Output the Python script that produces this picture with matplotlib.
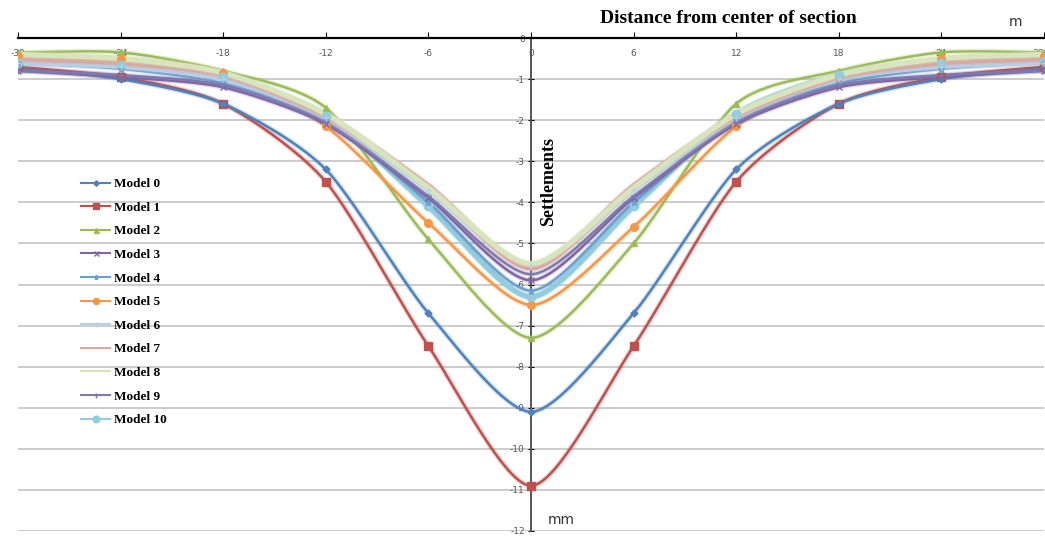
import numpy as np
import matplotlib
matplotlib.use("Agg")
import matplotlib.pyplot as plt
import matplotlib.patheffects as pe

plt.rcParams["axes.unicode_minus"] = False

########## DATA ##########

distance = [-30, -24, -18, -12, -6, 0, 6, 12, 18, 24, 30]  # m

model_names = ["Model 0", "Model 1", "Model 2", "Model 3", "Model 4", "Model 5",
               "Model 6", "Model 7", "Model 8", "Model 9", "Model 10"]

model_0 = [-0.75, -1.0, -1.6, -3.2, -6.7, -9.1, -6.7, -3.2, -1.6, -1.0, -0.75]
model_1 = [-0.7, -0.95, -1.6, -3.5, -7.5, -10.9, -7.5, -3.5, -1.6, -0.95, -0.7]
model_2 = [-0.35, -0.35, -0.8, -1.7, -4.9, -7.3, -5.0, -1.6, -0.8, -0.35, -0.35]
model_3 = [-0.8, -0.95, -1.2, -2.1, -3.9, -5.9, -3.9, -2.1, -1.2, -0.95, -0.8]
model_4 = [-0.6, -0.75, -1.1, -2.0, -4.0, -6.15, -4.0, -2.0, -1.1, -0.75, -0.6]
model_5 = [-0.45, -0.5, -0.85, -2.15, -4.5, -6.5, -4.6, -2.15, -0.95, -0.5, -0.45]
model_6 = [-0.6, -0.7, -1.0, -1.95, -3.7, -5.55, -3.7, -1.95, -1.0, -0.7, -0.6]
model_7 = [-0.5, -0.6, -0.9, -1.9, -3.6, -5.6, -3.6, -1.9, -0.95, -0.6, -0.5]
model_8 = [-0.4, -0.5, -0.85, -1.85, -3.65, -5.5, -3.65, -1.85, -0.9, -0.5, -0.4]
model_9 = [-0.8, -0.9, -1.15, -2.05, -3.85, -5.75, -3.85, -2.05, -1.15, -0.9, -0.8]
model_10 = [-0.6, -0.65, -0.95, -1.9, -4.1, -6.3, -4.1, -1.85, -0.9, -0.6, -0.55]

models = [model_0, model_1, model_2, model_3, model_4, model_5,
          model_6, model_7, model_8, model_9, model_10]

x_ticks = [-30, -24, -18, -12, -6, 0, 6, 12, 18, 24, 30]
y_ticks = list(range(-12, 1))

########## STYLE ##########

colors = ["#4F81BD", "#C0504D", "#9BBB59", "#8064A2", "#6A9FD0", "#F79646",
          "#B9CDE5", "#D9A8A0", "#D7E4BD", "#7E7AB0", "#93CDDD"]
markers = ["D", "s", "^", "x", "*", "o", "+", "", "", "+", "o"]
msizes = [3.5, 6, 4.5, 4.5, 4.5, 5.5, 4.5, 0, 0, 4.5, 6]
widths = [1.8, 1.8, 1.8, 1.8, 1.8, 1.8, 3.2, 3.8, 3.8, 1.8, 3.8]


def smooth(xs, ys, n=30, k=0.38):
    # cardinal spline smoothing, roughly like excel's "smoothed line"
    xs = np.asarray(xs, float)
    ys = np.asarray(ys, float)
    px = np.concatenate([[2*xs[0]-xs[1]], xs, [2*xs[-1]-xs[-2]]])
    py = np.concatenate([[2*ys[0]-ys[1]], ys, [2*ys[-1]-ys[-2]]])
    t = np.linspace(0, 1, n)[:-1]
    h00 = 2*t**3 - 3*t**2 + 1
    h10 = t**3 - 2*t**2 + t
    h01 = -2*t**3 + 3*t**2
    h11 = t**3 - t**2
    outx, outy = [], []
    for i in range(1, len(px)-2):
        for p, o in ((px, outx), (py, outy)):
            m1 = k*(p[i+1]-p[i-1])
            m2 = k*(p[i+2]-p[i])
            o.extend(h00*p[i] + h10*m1 + h01*p[i+1] + h11*m2)
    outx.append(xs[-1])
    outy.append(ys[-1])
    return np.array(outx), np.array(outy)


########## PLOT ##########

fig = plt.figure(figsize=(10.45, 5.38), dpi=100)
ax = fig.add_axes([18/1045, 7/538, 1026/1045, 493/538])

ax.set_xlim(-30, 30)
ax.set_ylim(-12, 0)

for y in y_ticks[:-1]:
    ax.axhline(y, color="#C8C8C8", linewidth=1.3, zorder=0)

draw_order = [1, 0, 2, 5, 10, 4, 3, 9, 6, 7, 8]
handles = {}
for i in draw_order:
    sx, sy = smooth(distance, models[i])
    ax.plot(sx, sy, color=colors[i], linewidth=widths[i], zorder=3,
            solid_capstyle="round",
            path_effects=[pe.Stroke(linewidth=widths[i]+2, foreground=colors[i], alpha=0.22),
                          pe.Normal()])
    ax.plot(distance, models[i], linestyle="none", marker=markers[i] or None,
            markersize=msizes[i], color=colors[i], zorder=4)
    handles[i] = plt.Line2D([], [], color=colors[i], linewidth=1.5,
                            marker=markers[i] or None, markersize=msizes[i]*0.8)

# axes crossing at the origin
for s in ["top", "right"]:
    ax.spines[s].set_visible(False)
ax.spines["bottom"].set_position(("data", 0))
ax.spines["bottom"].set_linewidth(1.6)
ax.spines["left"].set_position(("data", 0))
ax.spines["left"].set_color("#555555")
ax.spines["left"].set_linewidth(1.4)
ax.spines["bottom"].set_zorder(5)

ax.set_xticks(x_ticks)
ax.set_yticks(y_ticks)
ax.tick_params(axis="x", direction="in", length=4, pad=8, labelsize=6.5,
               labelcolor="#555555")
ax.tick_params(axis="y", direction="inout", length=5, pad=2, labelsize=6.5,
               labelcolor="#555555")
ax.xaxis.set_ticks_position("bottom")
ax.get_xticklabels()[-1].set_horizontalalignment("right")

leg = ax.legend([handles[i] for i in range(11)], model_names, loc="upper left",
                bbox_to_anchor=(0.05, 0.74), frameon=False, handlelength=2.2,
                labelspacing=0.86, handletextpad=0.3,
                prop={"family": "Liberation Serif", "weight": "bold", "size": 9.5})

fig.text(0.697, 0.966, "Distance from center of section", ha="center", va="center",
         fontfamily="Liberation Serif", fontweight="bold", fontsize=14)
fig.text(0.972, 0.96, "m", ha="center", va="center", fontsize=10, color="#333333")
fig.text(0.525, 0.662, "Settlements", ha="center", va="center", rotation=90,
         fontfamily="Liberation Serif", fontweight="bold", fontsize=13)
fig.text(0.537, 0.033, "mm", ha="center", va="center", fontsize=10, color="#333333")

fig.savefig("out.png", dpi=100)
